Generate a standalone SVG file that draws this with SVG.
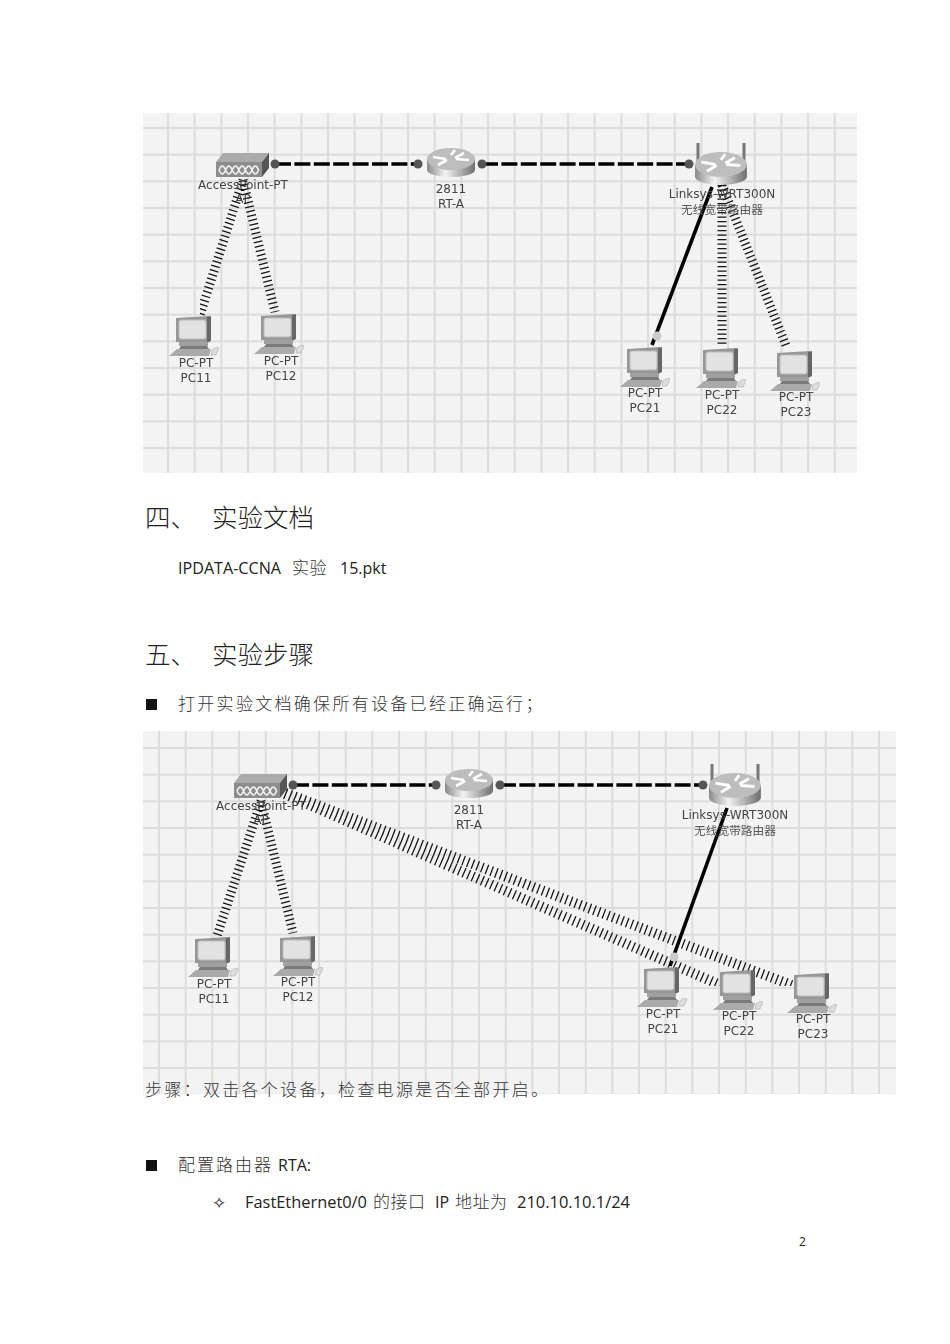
<svg xmlns="http://www.w3.org/2000/svg" width="950" height="1344" viewBox="0 0 950 1344">
<style>
.lb{font-family:"DejaVu Sans","Noto Sans CJK SC",sans-serif;font-size:12px;fill:#444;text-anchor:middle}
.cj{font-family:"Noto Sans CJK SC",sans-serif;font-size:11.7px;fill:#555;text-anchor:middle}
.h{font-family:"Noto Sans CJK SC",serif;font-size:25.5px;fill:#222;font-weight:300}
.t{font-family:"Noto Sans CJK SC",sans-serif;font-size:17px;letter-spacing:2.3px;fill:#333;font-weight:300}
.e{font-family:"Open Sans","Noto Sans CJK SC",sans-serif;font-size:16px;fill:#222}
.wl{stroke:#151515;stroke-width:9;stroke-dasharray:1.3 3.2;fill:none}
.wb{stroke:#151515;stroke-width:10;stroke-dasharray:1.3 3.7;fill:none}
.dl{stroke:#000;stroke-width:3.6;stroke-dasharray:16 3.4;fill:none}
.sl{stroke:#000;stroke-width:3.6;fill:none}
.ant{stroke:#777;stroke-width:3;fill:none}
.dot{fill:#555}
.soft{filter:url(#soft)}
</style>
<defs>
<filter id="soft" x="0" y="0" width="1" height="1"><feGaussianBlur stdDeviation="0.35"/></filter>
<pattern id="g1" patternUnits="userSpaceOnUse" x="167" y="127" width="26.67" height="26.67"><rect width="26.67" height="26.67" fill="#f3f3f3"/><rect width="2" height="26.67" fill="#dcdcdc"/><rect width="26.67" height="2" fill="#dcdcdc"/></pattern>
<pattern id="g2" patternUnits="userSpaceOnUse" x="158" y="747" width="26.67" height="26.67"><rect width="26.67" height="26.67" fill="#f3f3f3"/><rect width="2" height="26.67" fill="#dcdcdc"/><rect width="26.67" height="2" fill="#dcdcdc"/></pattern>
<linearGradient id="rg" x1="0" x2="1" y1="0" y2="0"><stop offset="0" stop-color="#8a8a8a"/><stop offset=".38" stop-color="#f2f2f2"/><stop offset="1" stop-color="#6f6f6f"/></linearGradient>
<g id="pc">
<path d="M0 2l33-2v26H0z" fill="#979797"/><path d="M31 1l4-1v25l-4 2z" fill="#666"/>
<rect x="3" y="4" width="27" height="19" rx="2" fill="#e2e2e2" stroke="#bbb"/>
<path d="M3 26h29v4H3z" fill="#a0a0a0"/><path d="M5 30h26l2 3H3z" fill="#7a7a7a"/>
<path d="M1 33H35L33 40H-7z" fill="#aaa"/><path d="M36 34q5-4 7-2l-3 7h-5z" fill="#ddd" stroke="#aaa" stroke-width=".6"/>
</g>
<g id="rt">
<rect x="0" y="11" width="48" height="11" fill="url(#rg)"/>
<ellipse cx="24" cy="22" rx="24" ry="7" fill="url(#rg)"/>
<ellipse cx="24" cy="11" rx="24" ry="11" fill="#bdbdbd"/>
<path d="M6 9l13 2M11 17l9-5M42 12l-13-1M37 5l-9 5M28 2l-4 5" stroke="#fff" stroke-width="2.6" fill="none"/>
</g>
<g id="ap">
<path d="M0 9l7-9h46l-7 9z" fill="#aaa"/><path d="M46 9l7-9v15l-7 9z" fill="#555"/>
<rect x="0" y="9" width="46" height="15" fill="#8c8c8c"/>
<path d="M3 17q3.300-8 6.600 0q3.300 8 6.600 0q3.300-8 6.600 0q3.300 8 6.600 0q3.300-8 6.600 0q3.300 8 6.600 0q-3.300-8-6.600 0q-3.300 8-6.600 0q-3.300-8-6.600 0q-3.300 8-6.600 0q-3.300-8-6.600 0q-3.300 8-6.600 0" stroke="#f2f2f2" stroke-width="1.500" fill="none"/>
</g>
</defs>
<rect width="950" height="1344" fill="#fff"/>
<rect id="panel1" x="143" y="113" width="714" height="360" fill="url(#g1)"/>
<rect id="panel2" x="143" y="731" width="753" height="363" fill="url(#g2)"/>
<g id="connectors" class="soft">
<path class="dl" d="M275 164H418M482 164H689"/>
<path class="wl" d="M243 180L200 315M243 180L275 312M722 185V347M722 185L787 348"/>
<path class="sl" d="M712 187L652 345"/>
<path class="dl" d="M293 785H436M500 785H703"/>
<path class="wl" d="M261 801L217 936M261 801L293 933"/>
<path class="wb" d="M262 784L720 985M262 784L794 986"/>
<path class="sl" d="M727 808L670 966"/>
<g class="dot"><circle cx="275" cy="164" r="4.500"/><circle cx="418" cy="164" r="4.500"/><circle cx="482" cy="164" r="4.500"/><circle cx="689" cy="164" r="4.500"/><circle cx="293" cy="785" r="4.500"/><circle cx="436" cy="785" r="4.500"/><circle cx="500" cy="785" r="4.500"/><circle cx="703" cy="785" r="4.500"/></g>
<circle cx="657" cy="336" r="4.500" fill="#ccc"/><circle cx="674" cy="957" r="4.500" fill="#ccc"/>
</g>
<g id="ap1" class="soft"><use href="#ap" x="216" y="153"/><text class="lb" x="243" y="189">AccessPoint-PT</text><text class="lb" x="243" y="203">AP</text></g>
<g id="rta1" class="soft"><use href="#rt" x="427" y="148"/><text class="lb" x="451" y="193">2811</text><text class="lb" x="451" y="208">RT-A</text></g>
<g id="wrt1" class="soft"><path class="ant" d="M698 143V162M744 143V162"/><use href="#rt" transform="translate(695 152) scale(1.080 1.130)"/><text class="lb" x="722" y="198">Linksys-WRT300N</text><text class="cj" x="722" y="214">无线宽带路由器</text></g>
<g id="pc11a" class="soft"><use href="#pc" x="176" y="316"/><text class="lb" x="196" y="367">PC-PT</text><text class="lb" x="196" y="382">PC11</text></g>
<g id="pc12a" class="soft"><use href="#pc" x="261" y="314"/><text class="lb" x="281" y="365">PC-PT</text><text class="lb" x="281" y="380">PC12</text></g>
<g id="pc21a" class="soft"><use href="#pc" x="627" y="347"/><text class="lb" x="645" y="397">PC-PT</text><text class="lb" x="645" y="412">PC21</text></g>
<g id="pc22a" class="soft"><use href="#pc" x="703" y="348"/><text class="lb" x="722" y="399">PC-PT</text><text class="lb" x="722" y="414">PC22</text></g>
<g id="pc23a" class="soft"><use href="#pc" x="777" y="351"/><text class="lb" x="796" y="401">PC-PT</text><text class="lb" x="796" y="416">PC23</text></g>
<g id="ap2" class="soft"><use href="#ap" x="234" y="774"/><text class="lb" x="261" y="810">AccessPoint-PT</text><text class="lb" x="261" y="824">AP</text></g>
<g id="rta2" class="soft"><use href="#rt" x="445" y="769"/><text class="lb" x="469" y="814">2811</text><text class="lb" x="469" y="829">RT-A</text></g>
<g id="wrt2" class="soft"><path class="ant" d="M712 764V783M758 764V783"/><use href="#rt" transform="translate(709 773) scale(1.080 1.130)"/><text class="lb" x="735" y="819">Linksys-WRT300N</text><text class="cj" x="735" y="835">无线宽带路由器</text></g>
<g id="pc11b" class="soft"><use href="#pc" x="195" y="937"/><text class="lb" x="214" y="988">PC-PT</text><text class="lb" x="214" y="1003">PC11</text></g>
<g id="pc12b" class="soft"><use href="#pc" x="280" y="936"/><text class="lb" x="298" y="986">PC-PT</text><text class="lb" x="298" y="1001">PC12</text></g>
<g id="pc21b" class="soft"><use href="#pc" x="644" y="967"/><text class="lb" x="663" y="1018">PC-PT</text><text class="lb" x="663" y="1033">PC21</text></g>
<g id="pc22b" class="soft"><use href="#pc" x="720" y="970"/><text class="lb" x="739" y="1020">PC-PT</text><text class="lb" x="739" y="1035">PC22</text></g>
<g id="pc23b" class="soft"><use href="#pc" x="794" y="973"/><text class="lb" x="813" y="1023">PC-PT</text><text class="lb" x="813" y="1038">PC23</text></g>
<text class="h" x="145" y="527">四、</text><text class="h" x="212" y="527">实验文档</text>
<text class="e" x="178" y="574" textLength="103" lengthAdjust="spacingAndGlyphs">IPDATA-CCNA</text><text class="t" x="292" y="574" style="letter-spacing:.5px">实验</text><text class="e" x="340" y="574">15.pkt</text>
<text class="h" x="145" y="664">五、</text><text class="h" x="212" y="664">实验步骤</text>
<rect x="146" y="699" width="11" height="11" fill="#111"/><text class="t" x="178" y="710">打开实验文档确保所有设备已经正确运行；</text>
<text class="t" x="145" y="1096">步骤：双击各个设备，检查电源是否全部开启。</text>
<rect x="146" y="1160" width="11" height="11" fill="#111"/><text class="t" x="178" y="1171" style="letter-spacing:2px">配置路由器</text><text class="e" x="278" y="1171">RTA:</text>
<text x="212" y="1209" style="font-family:'DejaVu Sans',sans-serif;font-size:17px;fill:#222">✧</text>
<text class="e" x="245" y="1208" textLength="122" lengthAdjust="spacingAndGlyphs">FastEthernet0/0</text><text class="t" x="373" y="1208" style="letter-spacing:.5px">的接口</text><text class="e" x="435" y="1208">IP</text><text class="t" x="455" y="1208" style="letter-spacing:.5px">地址为</text><text class="e" x="517" y="1208" textLength="113" lengthAdjust="spacingAndGlyphs">210.10.10.1/24</text>
<text class="e" x="799" y="1246" style="font-size:12px">2</text>
</svg>
